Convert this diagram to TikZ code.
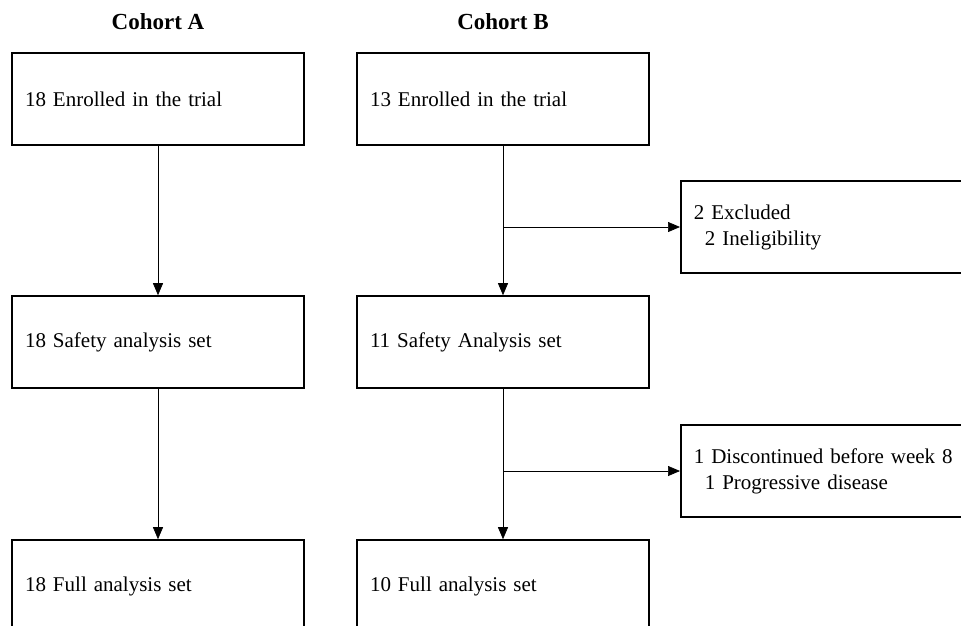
\documentclass[tikz,border=0pt]{standalone}
\usepackage{fontspec}
\setmainfont{Liberation Serif}
\usetikzlibrary{arrows.meta}

\begin{document}
\begin{tikzpicture}[x=1pt,y=1pt,
  box/.style={draw,line width=1.6pt,minimum width=292pt,minimum height=92pt,
    text width=266pt,inner xsep=13pt,align=left,font=\fontsize{21}{26}\selectfont},
  arr/.style={line width=0.7pt,-{Triangle[length=12pt,width=10pt]}},
  title/.style={font=\fontsize{23}{27}\selectfont\bfseries}]
\useasboundingbox (0,0) rectangle (961,-625);
\clip (0,0) rectangle (961,-625);
% titles
\node[title] (ta) at (158,-22) {Cohort A};
\node[title] (tb) at (503,-22) {Cohort B};
% cohort A
\node[box] (a1) at (158,-99) {18 Enrolled in the trial};
\node[box] (a2) at (158,-342) {18 Safety analysis set};
\node[box] (a3) at (158,-586) {18 Full analysis set};
% cohort B
\node[box] (b1) at (503,-99) {13 Enrolled in the trial};
\node[box] (b2) at (503,-342) {11 Safety Analysis set};
\node[box] (b3) at (503,-586) {10 Full analysis set};
% exclusions
\node[box,anchor=west] (r1) at (680,-227) {2 Excluded\\\hspace*{11pt}2 Ineligibility};
\node[box,anchor=west] (r2) at (680,-471) {1 Discontinued before week 8\\\hspace*{11pt}1 Progressive disease};
% arrows
\foreach \c in {a,b} {
  \draw[arr] (\c1) -- (\c2);
  \draw[arr] (\c2) -- (\c3);
}
\draw[arr] (b1.south |- r1.west) -- (r1.west);
\draw[arr] (b2.south |- r2.west) -- (r2.west);
\end{tikzpicture}
\end{document}
